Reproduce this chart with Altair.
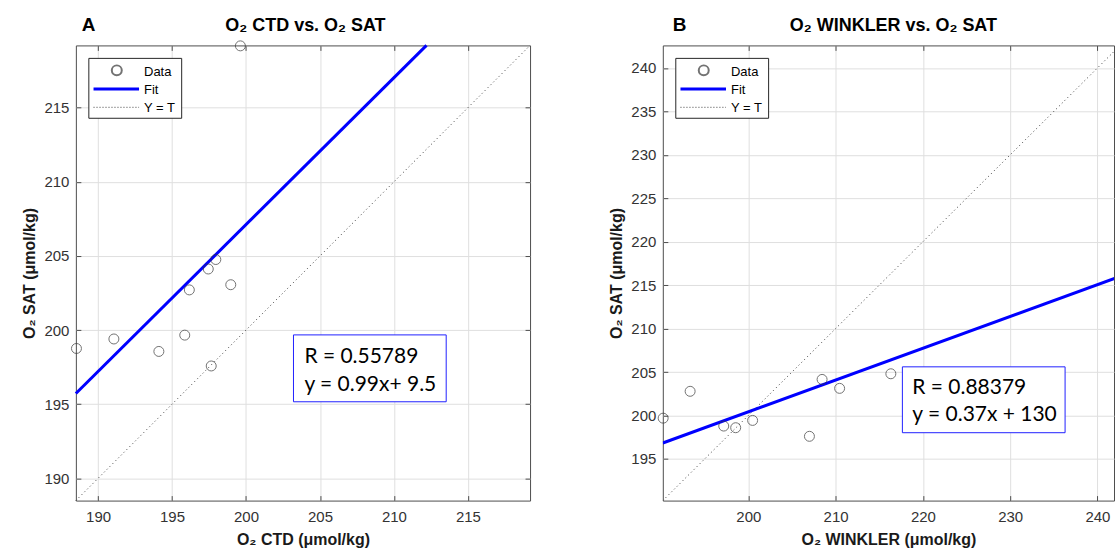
import altair as alt
import pandas as pd

# ---------------- Panel A data (O2 CTD vs O2 SAT) ----------------
a_ctd = [188.54, 191.07, 194.11, 195.86, 196.17, 197.45, 197.65, 197.96, 198.97, 199.62]
a_sat = [198.76, 199.40, 198.56, 199.66, 202.71, 204.12, 197.58, 204.76, 203.06, 219.17]
a_fit_x = [188.5, 212.2]
a_fit_y = [195.72, 219.2]
a_lim = [188.5, 219.2]
a_ticks = [190, 195, 200, 205, 210, 215]
a_text = ["R = 0.55789", "y = 0.99x+ 9.5"]

# ---------------- Panel B data (O2 WINKLER vs O2 SAT) ----------------
b_wink = [190.24, 193.33, 197.18, 198.55, 200.49, 207.00, 208.45, 210.46, 216.33, 242.60]
b_sat = [199.69, 202.78, 198.78, 198.59, 199.43, 197.60, 204.15, 203.12, 204.80, 219.44]
b_fit_x = [190.2, 242.6]
b_fit_y = [196.83, 216.0]
b_lim = [190.2, 242.6]
b_xlim_shown = [190.2, 241.9]
b_xticks = [200, 210, 220, 230, 240]
b_yticks = [195, 200, 205, 210, 215, 220, 225, 230, 235, 240]
b_text = ["R = 0.88379", "y = 0.37x + 130"]

legend_labels = ["Data", "Fit", "Y = T"]

FONT = "Liberation Sans"
BOX_FONT = "Lato"
AX = "#4d4d4d"


def tick_axis(values, orient):
    return alt.Axis(values=values, orient=orient, offset=-5, tickSize=5, ticks=True,
                    labels=False, domain=False, grid=False, title=None,
                    tickColor=AX, tickWidth=1)


def panel(px, py, fx, fy, xlim, ylim, diag, xticks, yticks, xtitle, ytitle, title,
          title_x, letter, letter_x, texts, box, w, h, right_ticks, clip):
    pts = pd.DataFrame({"x": px, "y": py})
    fit = pd.DataFrame({"x": fx, "y": fy})
    yt = pd.DataFrame({"x": diag, "y": diag})
    sx = alt.Scale(domain=xlim, nice=False, zero=False)
    sy = alt.Scale(domain=ylim, nice=False, zero=False)

    x_lab = alt.Axis(values=xticks, title=xtitle, orient="bottom", grid=True, ticks=False,
                     domain=False, labelPadding=9, titlePadding=7, format="d")
    y_lab = alt.Axis(values=yticks, title=ytitle, orient="left", grid=True, ticks=False,
                     domain=False, labelPadding=7, titlePadding=6, format="d")

    yt_layer = alt.Chart(yt).mark_line(color="#383838", strokeWidth=1, strokeDash=[1, 3],
                                        clip=clip).encode(
        x=alt.X("x:Q", scale=sx, axis=tick_axis(xticks, "top")),
        y=alt.Y("y:Q", scale=sy, axis=tick_axis(yticks, "right") if right_ticks else None),
    )
    fit_layer = alt.Chart(fit).mark_line(color="#0000ff", strokeWidth=3, clip=clip).encode(
        x=alt.X("x:Q", scale=sx, axis=tick_axis(xticks, "bottom")),
        y=alt.Y("y:Q", scale=sy, axis=tick_axis(yticks, "left")),
    )
    base_pts = alt.Chart(pts).mark_point(shape="circle", filled=False, size=100,
                                         color="#383838", strokeWidth=1)
    pt_layer = base_pts.encode(
        x=alt.X("x:Q", scale=sx, axis=x_lab),
        y=alt.Y("y:Q", scale=sy, axis=y_lab),
    )
    layers = [yt_layer, fit_layer, pt_layer]
    if clip:
        layers[2] = pt_layer.transform_filter(alt.datum.x < xlim[1])
        layers.append(
            alt.Chart(pts).mark_point(shape="circle", filled=False, size=100,
                                      color="#383838", strokeWidth=1, clip=True)
            .encode(x=alt.X("x:Q", scale=sx, axis=None), y=alt.Y("y:Q", scale=sy, axis=None))
            .transform_filter(alt.datum.x >= xlim[1])
        )

    # legend (MATLAB style box, northwest)
    one = pd.DataFrame({"k": [0]})
    leg = [
        alt.Chart(one).mark_rect(fill="white", stroke="#262626", strokeWidth=1).encode(
            x=alt.value(13), x2=alt.value(106), y=alt.value(13), y2=alt.value(73)),
        alt.Chart(one).mark_point(shape="circle", filled=False, size=100, color="#383838").encode(
            x=alt.value(41), y=alt.value(25)),
        alt.Chart(one).mark_rule(color="#0000ff", strokeWidth=3).encode(
            x=alt.value(17.7), x2=alt.value(63.3), y=alt.value(43.7)),
        alt.Chart(one).mark_rule(color="#404040", strokeWidth=1, strokeDash=[1, 2]).encode(
            x=alt.value(17.7), x2=alt.value(63.3), y=alt.value(62)),
    ]
    for lab, yb in zip(legend_labels, [30.5, 48.5, 67]):
        leg.append(alt.Chart(one).mark_text(text=lab, font=FONT, fontSize=13, align="left",
                                            baseline="alphabetic", color="#000").encode(
            x=alt.value(68.3), y=alt.value(yb)))

    bx0, by0, bx1, by1, tx, tb1, tb2 = box
    ann = [
        alt.Chart(one).mark_rect(fill="white", stroke="#2020ff", strokeWidth=1).encode(
            x=alt.value(bx0), x2=alt.value(bx1), y=alt.value(by0), y2=alt.value(by1)),
        alt.Chart(one).mark_text(text=texts[0], font=BOX_FONT, fontSize=21, align="left",
                                 baseline="alphabetic", color="#000").encode(
            x=alt.value(tx), y=alt.value(tb1)),
        alt.Chart(one).mark_text(text=texts[1], font=BOX_FONT, fontSize=21, align="left",
                                 baseline="alphabetic", color="#000").encode(
            x=alt.value(tx), y=alt.value(tb2)),
    ]
    let = alt.Chart(one).mark_text(text=letter, font=FONT, fontSize=19, fontWeight="bold",
                                   align="left", baseline="alphabetic", color="#000").encode(
        x=alt.value(letter_x), y=alt.value(-14))
    ttl = alt.Chart(one).mark_text(text=title, font=FONT, fontSize=18, fontWeight="bold",
                                   align="center", baseline="alphabetic", color="#000").encode(
        x=alt.value(title_x), y=alt.value(-14))

    return alt.layer(*layers, *leg, *ann, let, ttl).resolve_axis(
        x="independent", y="independent"
    ).properties(width=w, height=h)


A = panel(a_ctd, a_sat, a_fit_x, a_fit_y, a_lim, a_lim, a_lim, a_ticks, a_ticks,
          "O₂ CTD (μmol/kg)", "O₂ SAT (μmol/kg)", "O₂ CTD vs. O₂ SAT", 230,
          "A", 6, a_text, (218, 290, 371, 357, 229, 318, 346), 455, 456, True, False)

B = panel(b_wink, b_sat, b_fit_x, b_fit_y, b_xlim_shown, b_lim, b_lim, b_xticks, b_yticks,
          "O₂ WINKLER (μmol/kg)", "O₂ SAT (μmol/kg)", "O₂ WINKLER vs. O₂ SAT", 231,
          "B", 10, b_text, (240, 322, 403, 388, 250, 349, 376), 452, 456, False, True)

chart = alt.hconcat(A, B, spacing=133, bounds="flush").properties(
    padding={"left": 21, "top": 15, "right": 0, "bottom": 0},
    background="white",
).configure_view(
    stroke=AX, strokeWidth=1
).configure_axis(
    labelFont=FONT, labelFontSize=15, labelColor="#333333",
    titleFont=FONT, titleFontSize=16, titleFontWeight="bold", titleColor="#1a1a1a",
    gridColor="#dfdfdf", gridWidth=1,
)

chart.save("out.html", embed_options={"renderer": "svg", "actions": False})
